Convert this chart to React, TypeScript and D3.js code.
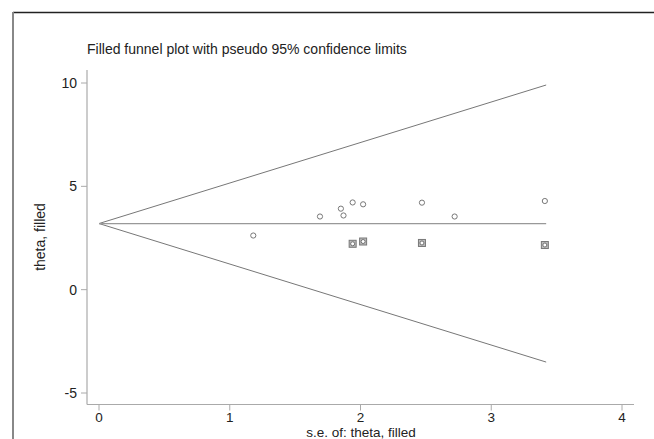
import React from "react";
import * as d3 from "d3";

// observed studies (se, theta)
const seObserved = [1.18, 1.69, 1.85, 1.87, 1.94, 2.02, 2.47, 2.72, 3.41];
const thetaObserved = [2.62, 3.54, 3.92, 3.59, 4.22, 4.13, 4.21, 3.54, 4.29];

// filled (imputed) studies
const seFilled = [1.94, 2.02, 2.47, 3.41];
const thetaFilled = [2.22, 2.33, 2.26, 2.16];

const pooledTheta = 3.2;
const seMax = 3.42;

const xTicks = [0, 1, 2, 3, 4];
const yTicks = [-5, 0, 5, 10];

const title = "Filled funnel plot with pseudo 95% confidence limits";
const xTitle = "s.e. of: theta, filled";
const yTitle = "theta, filled";

function App() {
    const width = 654;
    const height = 439;
    const font = "'Liberation Sans', Arial, sans-serif";

    // Create scale functions
    const xScale = d3.scaleLinear().domain([0, 4]).range([99, 622]);
    const yScale = d3.scaleLinear().domain([-5, 10]).range([393, 83]);

    const axisLeft = 87;
    const axisBottom = 404.5;

    const line = d3.line<[number, number]>()
        .x(d => xScale(d[0]))
        .y(d => yScale(d[1]));

    const upper: [number, number][] = [[0, pooledTheta], [seMax, pooledTheta + 1.96 * seMax]];
    const lower: [number, number][] = [[0, pooledTheta], [seMax, pooledTheta - 1.96 * seMax]];
    const centre: [number, number][] = [[0, pooledTheta], [seMax, pooledTheta]];

    return (
        <svg width={width} height={height} style={{ position: "absolute", left: 0, top: 0, background: "#fff" }}>
            {/* outer frame */}
            <line x1={13} y1={12.5} x2={width} y2={12.5} stroke="#222" strokeWidth={1.5} />
            <line x1={13} y1={12} x2={13} y2={height} stroke="#888" strokeWidth={2} />

            <text x={axisLeft} y={54} fontFamily={font} fontSize={14} fill="#222">{title}</text>

            {/* axes */}
            <line x1={axisLeft} y1={70} x2={axisLeft} y2={axisBottom} stroke="#aaa" strokeWidth={1.2} />
            <line x1={axisLeft} y1={axisBottom} x2={634} y2={axisBottom} stroke="#aaa" strokeWidth={1.2} />

            {yTicks.map(t => (
                <g key={"y" + t}>
                    <line x1={axisLeft - 6} x2={axisLeft} y1={yScale(t)} y2={yScale(t)} stroke="#aaa" />
                    <text x={axisLeft - 10} y={yScale(t)} dy="0.35em" textAnchor="end"
                        fontFamily={font} fontSize={14} fill="#222">{t}</text>
                </g>
            ))}
            {xTicks.map(t => (
                <g key={"x" + t}>
                    <line x1={xScale(t)} x2={xScale(t)} y1={axisBottom} y2={axisBottom + 6} stroke="#aaa" />
                    <text x={xScale(t)} y={422} textAnchor="middle"
                        fontFamily={font} fontSize={13.5} fill="#222">{t}</text>
                </g>
            ))}

            <text x={361} y={436.5} textAnchor="middle" fontFamily={font} fontSize={13.5} fill="#222">{xTitle}</text>
            <text transform={`translate(45,237) rotate(-90)`} textAnchor="middle"
                fontFamily={font} fontSize={14} fill="#222">{yTitle}</text>

            {/* funnel */}
            <path d={line(upper) ?? ""} fill="none" stroke="#777" strokeWidth={1} />
            <path d={line(lower) ?? ""} fill="none" stroke="#777" strokeWidth={1} />
            <path d={line(centre) ?? ""} fill="none" stroke="#999" strokeWidth={1.2} />

            {/* observed studies */}
            {seObserved.map((s, i) => (
                <circle key={"o" + i} cx={xScale(s)} cy={yScale(thetaObserved[i])} r={2.6}
                    fill="none" stroke="#777" strokeWidth={1} />
            ))}

            {/* filled studies */}
            {seFilled.map((s, i) => (
                <g key={"f" + i}>
                    <rect x={xScale(s) - 3.5} y={yScale(thetaFilled[i]) - 3.5} width={7} height={7}
                        fill="#bbb" stroke="#777" strokeWidth={1} />
                    <circle cx={xScale(s)} cy={yScale(thetaFilled[i])} r={2}
                        fill="#fff" stroke="#666" strokeWidth={0.9} />
                </g>
            ))}
        </svg>
    );
}

export default App;
